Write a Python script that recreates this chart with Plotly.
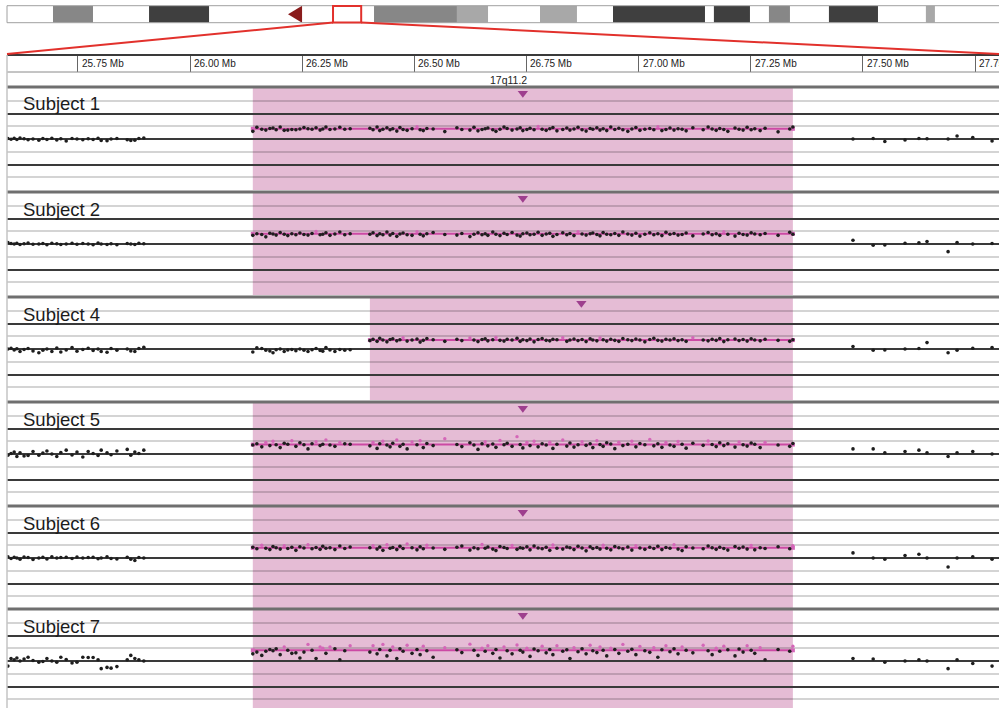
import plotly.graph_objects as go

W, H = 999, 708

# ---------------- data ----------------
# chromosome 17 ideogram (Mb)
chrom_view = [0.0, 77.87]
band_start = [3.61, 11.15, 28.81, 35.32, 41.84, 47.57, 55.49, 59.81, 64.52, 72.13]
band_end = [6.75, 15.86, 35.32, 37.76, 44.74, 54.79, 58.32, 61.46, 68.37, 72.84]
band_stain = ["gpos50", "gpos100", "gpos50", "gpos25", "gpos25",
              "gpos100", "gpos100", "gpos50", "gpos100", "gpos25"]
cen_start, cen_end = 22.06, 23.16
window = [25.592, 27.8035]

ruler_ticks = [25.75, 26.00, 26.25, 26.50, 26.75, 27.00, 27.25, 27.50, 27.75]
ruler_labels = ["25.75 Mb", "26.00 Mb", "26.25 Mb", "26.50 Mb", "26.75 Mb",
                "27.00 Mb", "27.25 Mb", "27.50 Mb", "27.75 Mb"]
cytoband_name = "17q11.2"
cytoband_pos = 26.71

subjects = ["Subject 1", "Subject 2", "Subject 4", "Subject 5", "Subject 6", "Subject 7"]
seg_start = [26.140, 26.140, 26.401, 26.140, 26.140, 26.140]
seg_end = [27.344, 27.344, 27.344, 27.344, 27.344, 27.344]
seg_mean = [0.40, 0.40, 0.35, 0.37, 0.40, 0.42]

probe_left = [25.594, 25.601, 25.608, 25.614, 25.621, 25.630, 25.639, 25.650, 25.663, 25.672,
              25.681, 25.692, 25.703, 25.712, 25.724, 25.737, 25.748, 25.761, 25.773, 25.784,
              25.795, 25.802, 25.815, 25.824, 25.837, 25.860, 25.868, 25.877, 25.886, 25.897]
probe_mid = [26.140, 26.149, 26.160, 26.169, 26.178, 26.185, 26.192, 26.201, 26.210, 26.218,
             26.227, 26.236, 26.245, 26.254, 26.263, 26.272, 26.281, 26.290, 26.296, 26.303,
             26.312, 26.323, 26.334, 26.345, 26.357]
probe_core = [26.401, 26.408, 26.417, 26.423, 26.430, 26.439, 26.446, 26.452, 26.461, 26.468,
              26.475, 26.484, 26.495, 26.506, 26.513, 26.520, 26.528, 26.542, 26.568, 26.595,
              26.606, 26.624, 26.633, 26.642, 26.651, 26.658, 26.664, 26.675, 26.682, 26.691,
              26.700, 26.707, 26.718, 26.729, 26.736, 26.742, 26.751, 26.758, 26.767, 26.776,
              26.785, 26.794, 26.802, 26.809, 26.818, 26.831, 26.840, 26.847, 26.856, 26.865,
              26.874, 26.883, 26.892, 26.898, 26.907, 26.914, 26.921, 26.929, 26.938, 26.947,
              26.956, 26.965, 26.976, 26.985, 26.994, 27.003, 27.014, 27.025, 27.034, 27.043,
              27.052, 27.061, 27.070, 27.079, 27.088, 27.097, 27.106, 27.121, 27.144, 27.155,
              27.164, 27.173, 27.181, 27.190, 27.199, 27.215, 27.224, 27.233, 27.242, 27.251,
              27.259, 27.271, 27.282, 27.311, 27.337, 27.344]
probe_right = [27.478, 27.523, 27.549, 27.594, 27.625, 27.643, 27.690, 27.710, 27.745, 27.788]

subject1_log2 = [
    .02, -.01, .03, -.02, .04, .01, -.03, .0, -.05, .02,
    -.02, .03, -.04, .01, -.08, .02, .0, -.03, .01, -.02,
    .03, -.06, -.07, .0, .02, -.03, -.06, -.05, .02, .04,
    .30, .46, .38, .35, .41, .43, .36, .47, .34, .35,
    .37, .36, .39, .45, .40, .38, .44, .35, .39, .47,
    .37, .39, .46, .38, .40,
    .42, .36, .47, .33, .38, .44, .36, .40, .31, .45,
    .37, .34, .40, .48, .36, .33, .41, .39, .29, .44,
    .37, .35, .46, .32, .37, .40, .43, .36, .30, .38,
    .47, .41, .35, .39, .44, .33, .37, .42, .36, .49,
    .38, .34, .40, .45, .32, .37, .43, .35, .39, .46,
    .36, .31, .41, .38, .44, .35, .40, .33, .47, .37,
    .42, .36, .30, .39, .45, .34, .38, .41, .36, .48,
    .33, .37, .43, .35, .40, .38, .32, .44, .36, .47,
    .39, .34, .41, .37, .30, .43, .38, .35, .46, .36,
    .40, .33, .42, .28, .39, .47,
    .0, .02, -.10, -.04, .02, .01, .0, .12, .06, -.08]

subject2_log2 = [
    .06, .02, .0, .03, -.02, .01, .04, -.01, .0, .02,
    -.03, .03, .01, -.02, .0, .03, -.01, .02, .0, -.03,
    .04, .0, -.02, .01, -.03, .02, .0, -.02, .03, .01,
    .34, .40, .37, .28, .42, .39, .35, .45, .38, .33,
    .40, .36, .43, .37, .35, .41, .49, .36, .38, .44,
    .34, .39, .47, .36, .40,
    .38, .44, .33, .40, .36, .47, .35, .41, .30, .39,
    .43, .36, .34, .48, .38, .32, .40, .45, .37, .35,
    .41, .29, .38, .44, .36, .40, .34, .47, .38, .33,
    .42, .37, .45, .35, .31, .40, .43, .36, .38, .46,
    .34, .39, .42, .30, .37, .44, .36, .41, .33, .48,
    .39, .35, .40, .43, .37, .32, .45, .38, .36, .41,
    .34, .47, .39, .35, .42, .31, .38, .44, .36, .40,
    .33, .46, .38, .41, .35, .37, .43, .32, .39, .45,
    .36, .40, .34, .48, .38, .31, .42, .37, .35, .44,
    .39, .36, .41, .34, .46, .38,
    .15, -.05, -.04, .03, .05, .10, -.30, .06, .0, .02]

subject4_log2 = [
    .0, .03, -.04, .01, -.10, -.02, .02, -.08, -.15, -.05,
    .0, -.10, .04, -.12, -.04, .06, -.09, -.02, .03, -.06,
    .0, -.10, -.13, .02, -.05, .0, -.08, -.10, .02, .07,
    -.12, .05, .02, -.05, -.08, -.15, -.03, .0, -.10, -.04,
    -.02, -.07, .0, -.05, -.10, -.03, .02, -.06, -.09, .06,
    -.04, -.10, -.02, -.05, -.03,
    .33, .38, .30, .42, .35, .28, .37, .40, .32, .36,
    .44, .31, .35, .39, .27, .34, .41, .36, .30, .38,
    .33, .43, .35, .29, .37, .40, .32, .36, .45, .34,
    .31, .38, .35, .42, .30, .36, .33, .39, .28, .37,
    .41, .34, .32, .38, .36, .44, .30, .35, .39, .33,
    .37, .29, .40, .35, .32, .43, .36, .31, .38, .34,
    .30, .41, .36, .33, .39, .35, .28, .37, .42, .34,
    .31, .38, .35, .40, .33, .36, .30, .44, .35, .32,
    .38, .34, .41, .29, .36, .39, .33, .37, .31, .40,
    .35, .32, .38, .34, .30, .36,
    .10, -.05, -.04, .0, .02, .25, -.15, -.05, .03, .06]

subject5_log2 = [
    -.05, .02, .08, -.10, .05, -.08, -.06, .10, -.05, .04,
    .12, .0, -.10, .06, .15, -.04, .08, -.12, .10, .02,
    -.06, .15, .05, -.03, .12, .18, -.05, .08, .02, .15,
    .35, .40, .28, .45, .33, .50, .36, .25, .42, .38,
    .52, .30, .44, .36, .20, .40, .48, .33, .38, .55,
    .35, .30, .45, .40, .38,
    .32, .45, .22, .40, .50, .35, .28, .42, .55, .30,
    .38, .20, .47, .36, .52, .25, .41, .33, .60, .37,
    .29, .44, .35, .18, .40, .48, .32, .39, .26, .53,
    .36, .42, .30, .68, .37, .24, .45, .33, .50, .28,
    .40, .35, .46, .22, .38, .55, .31, .43, .27, .36,
    .48, .34, .40, .25, .52, .37, .30, .44, .39, .21,
    .46, .33, .38, .50, .28, .41, .36, .57, .32, .40,
    .26, .45, .35, .30, .49, .38, .23, .42, .34, .51,
    .37, .29, .44, .33, .40, .27, .47, .36, .31, .43,
    .38, .25, .45, .35, .30, .41,
    .20, .20, .05, .10, .15, .05, -.10, .05, .10, .0]

subject6_log2 = [
    .05, -.02, .03, .0, -.05, .04, .02, -.06, .0, .03,
    -.04, .05, .0, .02, .03, -.02, .04, .0, .02, .03,
    -.03, .0, .05, -.02, -.04, .03, -.05, -.10, .02, .0,
    .42, .36, .50, .38, .33, .45, .40, .35, .48, .37,
    .42, .30, .44, .39, .52, .36, .41, .34, .46, .38,
    .40, .33, .47, .37, .43,
    .40, .48, .35, .43, .30, .52, .38, .41, .33, .46,
    .37, .55, .40, .32, .44, .36, .50, .39, .34, .42,
    .47, .31, .40, .36, .53, .38, .43, .35, .29, .45,
    .41, .37, .49, .34, .40, .38, .44, .32, .47, .39,
    .36, .42, .30, .51, .38, .35, .43, .40, .33, .46,
    .39, .28, .44, .37, .41, .35, .50, .38, .32, .45,
    .40, .36, .43, .31, .48, .39, .34, .42, .37, .46,
    .33, .41, .38, .52, .35, .29, .44, .39, .36, .47,
    .40, .34, .42, .37, .31, .45, .38, .43, .35, .49,
    .32, .40, .37, .44, .36, .48,
    .20, .0, -.05, .10, .15, .0, -.35, .0, .05, -.05]

subject7_log2 = [
    -.20, .10, .05, .12, .0, .08, .15, .02, -.05, -.02,
    .10, .0, -.05, .15, .06, -.08, -.05, .15, .14, .14,
    .05, -.30, -.25, -.28, -.22, .05, .22, .10, .05, .0,
    .28, .35, .22, .38, .45, .40, .48, .25, .55, .42,
    .30, .32, .12, .35, .65, .42, .10, .55, .50, .30,
    .55, .48, .05, .40, .60,
    .35, .60, .28, .45, .65, .20, .42, .55, .10, .48,
    .38, .62, .30, .45, .25, .58, .40, .15, .52, .44,
    .33, .66, .42, .22, .50, .38, .60, .30, .45, .12,
    .55, .40, .28, .63, .42, .35, .50, .18, .47, .40,
    .58, .32, .45, .25, .60, .38, .44, .10, .52, .36,
    .48, .28, .62, .40, .33, .55, .42, .20, .50, .45,
    .30, .65, .38, .46, .25, .57, .40, .34, .52, .15,
    .44, .60, .36, .48, .28, .55, .42, .32, .62, .40,
    .25, .50, .38, .58, .44, .20, .47, .35, .60, .42,
    .30, .52, .05, .45, .38, .58,
    .10, .08, -.05, .0, .05, .0, -.30, .05, -.10, -.20]

# ---------------- styling / layout ----------------
probe_pos = probe_left + probe_mid + probe_core + probe_right
all_values = [subject1_log2, subject2_log2, subject4_log2,
              subject5_log2, subject6_log2, subject7_log2]

stain_color = {"gpos100": "#3f3f3f", "gpos50": "#878787", "gpos25": "#a8a8a8"}
FONT = "Liberation Sans, Arial, Helvetica, sans-serif"
PINK_BG = "rgb(229,188,213)"
DOT = "#1e1e1e"
DOT_HI = "#d466b8"
SEG = "#cc4aa4"
TRI = "#9e3f8e"

X0 = 7 / W
tops = [88, 193, 298, 403, 507, 610]
PH = 102


def fy(px):
    return 1 - px / H


def ideo_paper(mb):
    return X0 + (mb - chrom_view[0]) / (chrom_view[1] - chrom_view[0]) * (1 - X0)


fig = go.Figure()
layout = dict(
    width=W, height=H, margin=dict(l=0, r=0, t=0, b=0),
    paper_bgcolor="white", plot_bgcolor="white", showlegend=False,
    barmode="overlay", font=dict(family=FONT, color="#222"),
)
shapes, annotations = [], []

layout["xaxis"] = dict(domain=[X0, 1], range=window, anchor="y", showgrid=False,
                       showticklabels=False, zeroline=False, showline=False, ticks="",
                       fixedrange=True)

for i, name in enumerate(subjects):
    yname = "yaxis" if i == 0 else f"yaxis{i + 1}"
    yref = "y" if i == 0 else f"y{i + 1}"
    top = tops[i]
    bot = top + PH
    rng = [-2, 2]
    if bot > H:
        rng = [-2 + (bot - H) / (PH / 4), 2]
        bot = H
    layout[yname] = dict(
        domain=[fy(bot), fy(top)], range=rng, anchor="x",
        showticklabels=False, ticks="", zeroline=False, showline=False,
        tickmode="array", tickvals=[-1, 0, 1], gridcolor="#3a3a3a", gridwidth=2,
        minor=dict(tickmode="array", tickvals=[-1.5, -0.5, 0.5, 1.5], showgrid=True,
                   gridcolor="rgba(0,0,0,0.17)", gridwidth=1.5, ticks=""),
        fixedrange=True,
    )
    vals = all_values[i]
    s0, s1, m = seg_start[i], seg_end[i], seg_mean[i]

    # shaded aberration region
    shapes.append(dict(type="rect", xref="x", yref=f"{yref} domain", x0=s0, x1=s1,
                       y0=0, y1=1, fillcolor=PINK_BG, line=dict(width=0), layer="below"))

    bx, by, px_, py_ = [], [], [], []
    for x, v in zip(probe_pos, vals):
        if s0 <= x <= s1 and v > m + 0.07:
            px_.append(x)
            py_.append(v)
        else:
            bx.append(x)
            by.append(v)

    fig.add_trace(go.Scatter(x=[s0, s1], y=[m, m], mode="lines+markers", xaxis="x", yaxis=yref,
                             line=dict(color=SEG, width=2),
                             marker=dict(symbol="square", size=4, color=DOT_HI),
                             hoverinfo="skip"))
    fig.add_trace(go.Scatter(x=bx, y=by, mode="markers", xaxis="x", yaxis=yref,
                             marker=dict(size=3.6, color=DOT), hoverinfo="skip"))
    fig.add_trace(go.Scatter(x=px_, y=py_, mode="markers", xaxis="x", yaxis=yref,
                             marker=dict(size=3.4, color=DOT_HI), hoverinfo="skip"))
    fig.add_trace(go.Scatter(x=[(s0 + s1) / 2], y=[1.79], mode="markers", xaxis="x", yaxis=yref,
                             marker=dict(symbol="triangle-down", size=9, color=TRI,
                                         line=dict(width=0)),
                             hoverinfo="skip"))

    # panel top separator
    shapes.append(dict(type="line", xref="paper", yref="paper", x0=X0, x1=1,
                       y0=fy(top - 1), y1=fy(top - 1), line=dict(color="#6f6f6f", width=3)))
    annotations.append(dict(text=name, xref="paper", yref="paper", x=21 / W, y=fy(top + 16),
                            xanchor="left", yanchor="middle", showarrow=False,
                            font=dict(family=FONT, size=18.5, color="#1c1c1c")))

# ruler
layout["xaxis2"] = dict(domain=[X0, 1], range=window, anchor="y7", showgrid=True,
                        tickmode="array", tickvals=ruler_ticks, gridcolor="#666", gridwidth=1,
                        showticklabels=False, ticks="", zeroline=False, showline=False,
                        fixedrange=True)
layout["yaxis7"] = dict(domain=[fy(72), fy(55)], range=[0, 1], anchor="x2", showgrid=False,
                        showticklabels=False, ticks="", zeroline=False, fixedrange=True)
fig.add_trace(go.Scatter(x=[window[0]], y=[0.5], xaxis="x2", yaxis="y7", mode="markers",
                         marker=dict(opacity=0), hoverinfo="skip"))
for t, lab in zip(ruler_ticks, ruler_labels):
    annotations.append(dict(text=lab, xref="x2", yref="paper", x=t, y=fy(63.5),
                            xanchor="left", yanchor="middle", xshift=2, showarrow=False,
                            font=dict(family=FONT, size=10, color="#222")))
annotations.append(dict(text=cytoband_name, xref="x2", yref="paper", x=cytoband_pos, y=fy(80),
                        xanchor="center", yanchor="middle", showarrow=False,
                        font=dict(family=FONT, size=10.5, color="#222")))
shapes.append(dict(type="line", xref="paper", yref="paper", x0=X0, x1=1, y0=fy(55), y1=fy(55),
                   line=dict(color="#3a3a3a", width=2)))
shapes.append(dict(type="line", xref="paper", yref="paper", x0=X0, x1=1, y0=fy(72), y1=fy(72),
                   line=dict(color="#8a8a8a", width=1)))
shapes.append(dict(type="line", xref="paper", yref="paper", x0=X0, x1=X0, y0=fy(55), y1=0,
                   line=dict(color="#c4c4c4", width=1.5)))

# ideogram
layout["xaxis3"] = dict(domain=[X0, 1], range=chrom_view, anchor="y8", showgrid=False,
                        showticklabels=False, ticks="", zeroline=False, showline=False,
                        fixedrange=True)
layout["yaxis8"] = dict(domain=[fy(22.7), fy(5.7)], range=[-0.5, 0.5], anchor="x3",
                        showgrid=False, showticklabels=False, ticks="", zeroline=False,
                        fixedrange=True)
fig.add_trace(go.Bar(x=[e - s for s, e in zip(band_start, band_end)], base=band_start,
                     y=[0] * len(band_start), orientation="h", width=1,
                     marker=dict(color=[stain_color[s] for s in band_stain], line=dict(width=0)),
                     xaxis="x3", yaxis="y8", hoverinfo="skip"))
fig.add_trace(go.Scatter(x=[cen_start, cen_end, cen_end, cen_start],
                         y=[0, 0.5, -0.5, 0], mode="lines", fill="toself",
                         fillcolor="#8a1c1c", line=dict(width=0, color="#8a1c1c"),
                         xaxis="x3", yaxis="y8", hoverinfo="skip"))
shapes.append(dict(type="rect", xref="paper", yref="paper", x0=X0, x1=1.02,
                   y0=fy(22.7), y1=fy(5.7), line=dict(color="#a0a0a0", width=1)))
shapes.append(dict(type="rect", xref="x3", yref="paper", x0=window[0], x1=window[1],
                   y0=fy(22.5), y1=fy(6), line=dict(color="#e2312c", width=2)))
shapes.append(dict(type="line", xref="paper", yref="paper",
                   x0=ideo_paper(window[0]), y0=fy(22.5), x1=X0, y1=fy(54),
                   line=dict(color="#e2312c", width=2)))
shapes.append(dict(type="line", xref="paper", yref="paper",
                   x0=ideo_paper(window[1]), y0=fy(22.5), x1=1, y1=fy(54),
                   line=dict(color="#e2312c", width=2)))

layout["shapes"] = shapes
layout["annotations"] = annotations
fig.update_layout(**layout)
fig.write_html("out.html", config={"displayModeBar": False},
               post_script="document.body.style.margin='0';")
